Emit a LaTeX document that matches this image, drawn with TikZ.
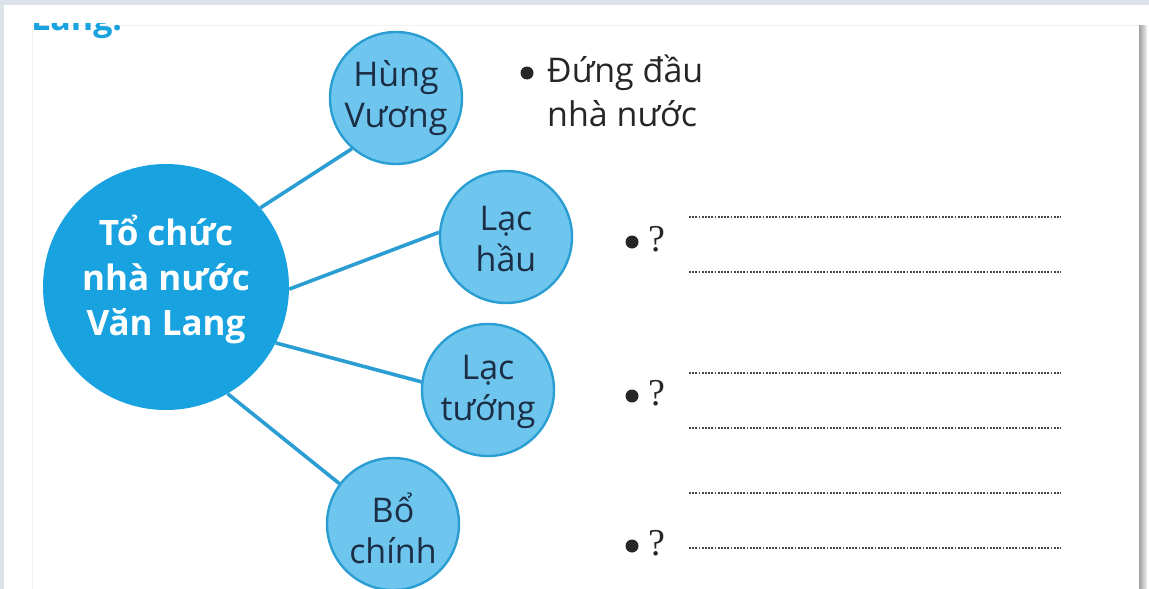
\documentclass[tikz,border=0pt]{standalone}
\usepackage{fontspec}
\setmainfont{Open Sans}
\newfontfamily\qfont{Liberation Serif}
\usepackage{xcolor}
\usetikzlibrary{positioning}
\definecolor{bgc}{HTML}{DCE2EA}
\definecolor{mainblue}{HTML}{19A2E0}
\definecolor{lightblue}{HTML}{6EC6EE}
\definecolor{lineblue}{HTML}{2A9ED2}
\definecolor{navy}{HTML}{1C2E45}
\definecolor{inkgray}{HTML}{262626}

\begin{document}
\begin{tikzpicture}[x=1pt, y=-1pt,
  mainc/.style={circle, fill=mainblue, minimum size=246pt, inner sep=0pt},
  smallc/.style={circle, fill=lightblue, draw=lineblue, line width=2.4pt, minimum size=132pt, inner sep=0pt},
  ctext/.style={align=center, text=navy, font=\fontsize{34}{41}\selectfont},
  mtext/.style={align=center, text=white, font=\fontsize{35}{45}\selectfont\bfseries},
  link/.style={lineblue, line width=3.6pt},
  bul/.style={circle, fill=inkgray, minimum size=13pt, inner sep=0pt},
  qmark/.style={text=inkgray, font=\fontsize{38}{40}\selectfont\qfont, inner sep=0pt},
  dotline/.style={gray!55!black, line width=1.8pt, dash pattern=on 1.8pt off 1.4pt}]
% Page background
\useasboundingbox (0,0) rectangle (1149,589);
\fill[bgc] (0,0) rectangle (1149,589);
\fill[white] (4,5) rectangle (1149,589);
\draw[gray!12, line width=1pt] (32,600) -- (32,25) -- (1139,25);
\shade[left color=gray!75, right color=gray!10] (1139,25) rectangle (1147,589);
% Cut heading
\begin{scope}
  \clip (0,23) rectangle (300,60);
  \node[anchor=base west, inner sep=0pt, text=mainblue, font=\fontsize{34}{40}\selectfont\bfseries] (head) at (31,30) {Lang.};
\end{scope}
% Circles
\node[mainc] (main) at (166,287) {};
\node[mtext] (maint) at ([yshift=8pt]main.center) {Tổ chức\\nhà nước\\Văn Lang};
\node[smallc] (hv) at (396,98) {};
\node[smallc] (lh) at (506,237) {};
\node[smallc] (lt) at (488,390) {};
\node[smallc] (bc) at (393,524) {};
\node[ctext] (hvt) at (hv) {Hùng\\Vương};
\node[ctext] (lht) at ([yshift=-2pt]lh.center) {Lạc\\hầu};
\node[ctext] (ltt) at ([yshift=-2pt]lt.center) {Lạc\\tướng};
\node[ctext] (bct) at ([yshift=-4pt]bc.center) {Bổ\\chính};
% Links
\draw[link] (main.40) -- (hv.229);
\draw[link] (main.-1) -- (lh.176);
\draw[link] (main.-27) -- (lt.173);
\draw[link] (main.-60) -- (bc.143);
% Answers
\node[bul] (b0) at (527,73) {};
\node[ctext, text=inkgray, anchor=west, inner sep=0pt] (dd1) at (547,73) {Đứng đầu};
\node[ctext, text=inkgray, anchor=west, inner sep=0pt] (dd2) at (547,114) {nhà nước};
\foreach \y/\n in {242/1,396/2,546/3}{
  \node[bul] (b\n) at (632,\y) {};
  \node[qmark] (q\n) at (657,\y-3) {?};
}
\foreach \y in {217,272,373,428,493,548}
  \draw[dotline] (689,\y) -- (1061,\y);
\end{tikzpicture}
\end{document}
